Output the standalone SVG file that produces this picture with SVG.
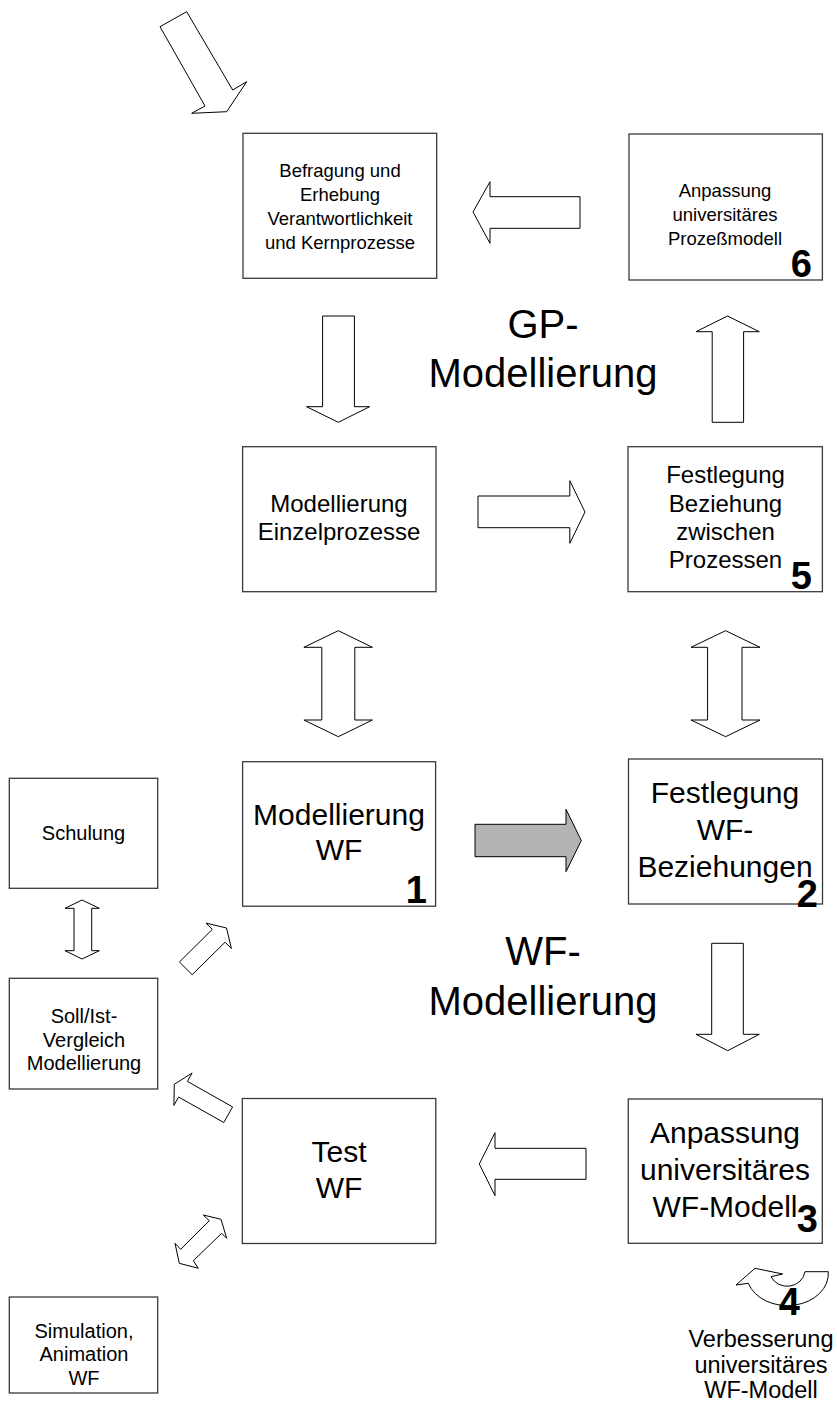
<svg xmlns="http://www.w3.org/2000/svg" width="837" height="1403" viewBox="0 0 837 1403">
  <style>
    .box { fill: #ffffff; stroke: #3a3a3a; stroke-width: 1.3; }
    .arw { fill: #ffffff; stroke: #000000; stroke-width: 1; stroke-linejoin: miter; }
    .grey { fill: #b3b3b3; }
    text { font-family: "Liberation Sans", Arial, sans-serif; fill: #000000; text-anchor: middle; }
    .s18 { font-size: 18.5px; }
    .s20 { font-size: 20px; }
    .s23 { font-size: 23.5px; }
    .s24 { font-size: 24px; }
    .s30 { font-size: 30px; }
    .s40 { font-size: 40px; }
    .num { font-size: 38px; font-weight: bold; text-anchor: end; }
  </style>
  <rect width="837" height="1403" fill="#ffffff"/>

  <!-- block arrows between the steps -->
  <g id="connectors">
    <polygon class="arw" points="160,26.7 186.7,11.7 232.7,90 246.7,81.7 226.7,111.7 191.7,113.3 205,106"/>
    <polygon class="arw" points="580,196.7 490,196.7 490,181.7 473,212 490,243.3 490,228.3 580,228.3"/>
    <polygon class="arw" points="322.6,316 354.4,316 354.4,406.7 369.7,406.7 338.3,422.3 306.5,406.7 322.6,406.7"/>
    <polygon class="arw" points="478,496 569.8,496 569.8,480.7 585,512 569.8,543.3 569.8,527.7 478,527.7"/>
    <polygon class="arw" points="712.2,422.3 712.2,331.7 696,331.7 727.5,316 759.3,331.7 743.6,331.7 743.6,422.3"/>
    <polygon class="arw" points="338.3,630.7 372.4,647.3 354.8,647.3 354.8,720 372.4,720 338.3,736.7 303.9,720 321.8,720 321.8,647.3 303.9,647.3"/>
    <polygon class="arw" points="725.6,630.7 760,647.3 742,647.3 742,720 760,720 725.6,736.7 691,720 707.6,720 707.6,647.3 691,647.3"/>
    <polygon class="arw grey" points="475,824.3 566,824.3 566,809.3 581.3,840.5 566,871.7 566,856.7 475,856.7"/>
    <polygon class="arw" points="711.7,943.3 743.3,943.3 743.3,1034.3 759.3,1034.3 727.7,1050.7 696,1034.3 711.7,1034.3"/>
    <polygon class="arw" points="586,1148.3 495,1148.3 495,1132.7 479.3,1164 495,1195.7 495,1179.3 586,1179.3"/>
    <polygon class="arw" points="82,900 99.3,908.3 91.7,908.3 91.7,950.7 99.3,950.7 82,959 65,950.7 74,950.7 74,908.3 65,908.3"/>
    <polygon class="arw" points="179.4,962 212.3,929.4 206,923.1 226.5,928 231.4,948.5 225.1,942.2 192.2,974.7"/>
    <polygon class="arw" points="232.6,1106.9 187.4,1081.4 192.1,1073 174.3,1084.3 173.9,1105.4 178.6,1097 223.8,1122.5"/>
    <polygon class="arw" points="221,1219.3 226.7,1238.3 221.7,1233.3 193.3,1260.7 198.3,1268.3 179.3,1263.3 175,1243.3 180.7,1249.3 209.3,1220.7 203.3,1215"/>
    <!-- curved improvement loop -->
    <path class="arw" d="M828.3,1271.7 L805,1271.7 A18 17 0 0 1 771,1276.7 L782.7,1274 L755,1268.3 L736,1285 L748.3,1283.3 A41 32 0 0 0 828.3,1271.7 Z"/>
  </g>

  <g id="befragung">
    <rect class="box" x="243" y="133.3" width="193.7" height="145"/>
    <text class="s18" x="340" y="176.7">Befragung und</text>
    <text class="s18" x="340" y="200.7">Erhebung</text>
    <text class="s18" x="340" y="224.8">Verantwortlichkeit</text>
    <text class="s18" x="340" y="249">und Kernprozesse</text>
  </g>

  <g id="prozessmodell">
    <rect class="box" x="629" y="134" width="193.4" height="146"/>
    <text class="s18" x="725" y="196.7">Anpassung</text>
    <text class="s18" x="725" y="221">universitäres</text>
    <text class="s18" x="725" y="245">Prozeßmodell</text>
    <text class="num" x="812" y="277">6</text>
  </g>

  <g id="gp-label">
    <text class="s40" x="543" y="338.3">GP-</text>
    <text class="s40" x="543" y="386.7">Modellierung</text>
  </g>

  <g id="einzelprozesse">
    <rect class="box" x="242.6" y="446.7" width="193.4" height="145"/>
    <text class="s24" x="339" y="511.7">Modellierung</text>
    <text class="s24" x="339" y="540">Einzelprozesse</text>
  </g>

  <g id="beziehung-prozesse">
    <rect class="box" x="628" y="446.7" width="194.4" height="145"/>
    <text class="s24" x="725.5" y="483.3">Festlegung</text>
    <text class="s24" x="725.5" y="511.7">Beziehung</text>
    <text class="s24" x="725.5" y="540">zwischen</text>
    <text class="s24" x="725.5" y="568.3">Prozessen</text>
    <text class="num" x="812" y="589">5</text>
  </g>

  <g id="modellierung-wf">
    <rect class="box" x="242.6" y="761.7" width="193" height="144.5"/>
    <text class="s30" x="339" y="825">Modellierung</text>
    <text class="s30" x="339" y="860">WF</text>
    <text class="num" x="427" y="903">1</text>
  </g>

  <g id="wf-beziehungen">
    <rect class="box" x="628.5" y="759" width="194" height="145"/>
    <text class="s30" x="725" y="803.3">Festlegung</text>
    <text class="s30" x="725" y="840">WF-</text>
    <text class="s30" x="725" y="876.7">Beziehungen</text>
    <text class="num" x="818" y="907">2</text>
  </g>

  <g id="wf-label">
    <text class="s40" x="543" y="965">WF-</text>
    <text class="s40" x="543" y="1015">Modellierung</text>
  </g>

  <g id="schulung">
    <rect class="box" x="9.3" y="778.3" width="148.4" height="110"/>
    <text class="s20" x="83.5" y="840">Schulung</text>
  </g>

  <g id="soll-ist">
    <rect class="box" x="9.3" y="978.3" width="148.4" height="110.7"/>
    <text class="s20" x="84" y="1023.3">Soll/Ist-</text>
    <text class="s20" x="84" y="1046.7">Vergleich</text>
    <text class="s20" x="84" y="1070">Modellierung</text>
  </g>

  <g id="test-wf">
    <rect class="box" x="242.3" y="1098.5" width="193.5" height="145"/>
    <text class="s30" x="339" y="1161.7">Test</text>
    <text class="s30" x="339" y="1198.3">WF</text>
  </g>

  <g id="wf-modell">
    <rect class="box" x="628.3" y="1099" width="194" height="144.3"/>
    <text class="s30" x="725" y="1143.3">Anpassung</text>
    <text class="s30" x="725" y="1180">universitäres</text>
    <text class="s30" x="725" y="1216.7">WF-Modell</text>
    <text class="num" x="818" y="1232">3</text>
  </g>

  <g id="simulation">
    <rect class="box" x="9.3" y="1297" width="148.4" height="96"/>
    <text class="s20" x="84" y="1338">Simulation,</text>
    <text class="s20" x="84" y="1361">Animation</text>
    <text class="s20" x="84" y="1385">WF</text>
  </g>

  <g id="verbesserung">
    <text class="num" x="800" y="1315">4</text>
    <text class="s23" x="761" y="1346.7">Verbesserung</text>
    <text class="s23" x="761" y="1373.3">universitäres</text>
    <text class="s23" x="761" y="1398.3">WF-Modell</text>
  </g>
</svg>
